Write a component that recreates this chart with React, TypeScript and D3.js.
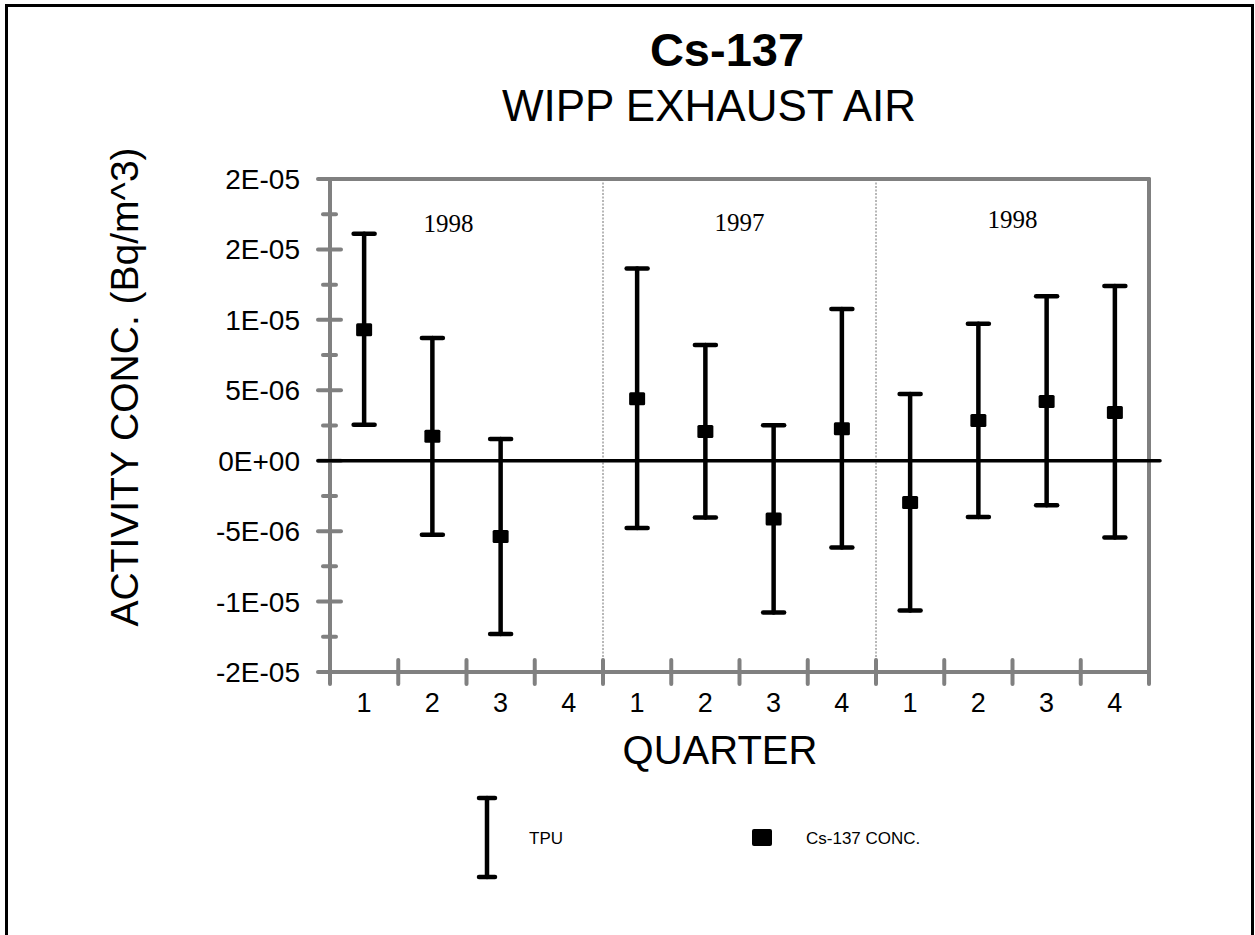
import React from "react";
import * as d3 from "d3";

// ---- data ----
const quarters = ["1", "2", "3", "4", "1", "2", "3", "4", "1", "2", "3", "4"];
const conc: (number | null)[] = [9.3e-6, 1.73e-6, -5.38e-6, null, 4.4e-6, 2.08e-6, -4.14e-6, 2.27e-6, -2.96e-6, 2.86e-6, 4.21e-6, 3.43e-6];
const tpuLow: (number | null)[] = [2.56e-6, -5.26e-6, -1.23e-5, null, -4.78e-6, -4.03e-6, -1.077e-5, -6.16e-6, -1.063e-5, -4.0e-6, -3.17e-6, -5.45e-6];
const tpuHigh: (number | null)[] = [1.612e-5, 8.71e-6, 1.54e-6, null, 1.364e-5, 8.22e-6, 2.51e-6, 1.077e-5, 4.74e-6, 9.73e-6, 1.167e-5, 1.24e-5];
const years = ["1998", "1997", "1998"];
const majorTicks = [-1.5e-5, -1e-5, -5e-6, 0, 5e-6, 1e-5, 1.5e-5, 2e-5];
const minorTicks = [-1.25e-5, -7.5e-6, -2.5e-6, 2.5e-6, 7.5e-6, 1.25e-5, 1.75e-5];

// ---- layout ----
const W = 1255, H = 935;
const L = 330, R = 1149, T = 179, B = 672;
const SANS = "'Liberation Sans', Arial, Helvetica, sans-serif";
const SERIF = "'Liberation Serif', 'Times New Roman', serif";
const GRAY = "#808080";
const yearOffsets = [-18, 0, 0];
const yearBaselines = [232, 231, 228];

function fmtE(v: number): string {
  if (Math.abs(v) < 1e-20) return "0E+00";
  const s = Math.sign(v);
  let e = Math.floor(Math.log10(Math.abs(v)) + 1e-9);
  let m = Math.round(Math.abs(v) / Math.pow(10, e) + 1e-9);
  if (m >= 10) { m = 1; e += 1; }
  const es = (e < 0 ? "-" : "+") + String(Math.abs(e)).padStart(2, "0");
  return (s < 0 ? "-" : "") + m + "E" + es;
}

export default function App() {
  const x = d3.scaleBand<number>().domain(d3.range(quarters.length)).range([L, R]).padding(0);
  const y = d3.scaleLinear().domain([-1.5e-5, 2e-5]).range([B, T]);
  const bw = x.bandwidth();
  const cx = (i: number) => (x(i) as number) + bw / 2;

  return (
    <svg width={W} height={H} style={{ position: "absolute", left: 0, top: 0, background: "#fff" }}>
      <rect x={0} y={0} width={W} height={H} fill="#fff" />
      {/* outer frame */}
      <rect x={6.5} y={5.5} width={1246} height={960} fill="none" stroke="#000" strokeWidth={3} />

      {/* titles */}
      <text x={727} y={66} textAnchor="middle" fontFamily={SANS} fontWeight="bold" fontSize={47}>Cs-137</text>
      <text x={709} y={121} textAnchor="middle" fontFamily={SANS} fontSize={44}>WIPP EXHAUST AIR</text>

      {/* y axis title */}
      <text transform={`translate(138,387) rotate(-90)`} textAnchor="middle" fontFamily={SANS} fontSize={39}>
        ACTIVITY CONC. (Bq/m^3)
      </text>

      {/* group separators */}
      {[4, 8].map((k) => (
        <line key={k} x1={x(k) as number} x2={x(k) as number} y1={T} y2={B} stroke="#707070" strokeWidth={1} strokeDasharray="2,1.5" />
      ))}

      {/* frame top & right */}
      <line x1={L} x2={R} y1={T} y2={T} stroke={GRAY} strokeWidth={4} strokeLinecap="round" />
      <line x1={R} x2={R} y1={T} y2={B} stroke={GRAY} strokeWidth={4} strokeLinecap="round" />

      {/* y axis */}
      <line x1={L} x2={L} y1={T} y2={B} stroke={GRAY} strokeWidth={4} strokeLinecap="round" />
      {majorTicks.map((t, i) => (
        <g key={"M" + i}>
          <line x1={L - 12} x2={L + 11} y1={y(t)} y2={y(t)} stroke={GRAY} strokeWidth={4} strokeLinecap="round" />
          <text x={300} y={y(t) + 10} textAnchor="end" fontFamily={SANS} fontSize={28}>{fmtE(t)}</text>
        </g>
      ))}
      {minorTicks.map((t, i) => (
        <line key={"m" + i} x1={L - 7} x2={L + 6} y1={y(t)} y2={y(t)} stroke={GRAY} strokeWidth={4} strokeLinecap="round" />
      ))}

      {/* x axis */}
      <line x1={L} x2={R} y1={B} y2={B} stroke={GRAY} strokeWidth={4} strokeLinecap="round" />
      {d3.range(quarters.length + 1).map((k) => {
        const xx = k < quarters.length ? (x(k) as number) : R;
        const top = k === 0 || k === quarters.length ? B : B - 12;
        return <line key={"xt" + k} x1={xx} x2={xx} y1={top} y2={B + 12} stroke={GRAY} strokeWidth={4} strokeLinecap="round" />;
      })}
      {quarters.map((q, i) => (
        <text key={"xl" + i} x={cx(i)} y={712} textAnchor="middle" fontFamily={SANS} fontSize={27}>{q}</text>
      ))}
      <text x={720} y={764} textAnchor="middle" fontFamily={SANS} fontSize={40}>QUARTER</text>

      {/* year labels */}
      {years.map((yr, g) => (
        <text key={"yr" + g} x={cx(g * 4) + bw * 1.5 + yearOffsets[g]} y={yearBaselines[g]}
          textAnchor="middle" fontFamily={SERIF} fontSize={25}>{yr}</text>
      ))}

      {/* zero line */}
      <line x1={L - 12} x2={1160} y1={y(0)} y2={y(0)} stroke="#000" strokeWidth={3.5} strokeLinecap="round" />

      {/* error bars */}
      {quarters.map((_, i) => {
        const lo = tpuLow[i], hi = tpuHigh[i];
        if (lo == null || hi == null) return null;
        const xx = cx(i);
        return (
          <g key={"eb" + i} stroke="#000" strokeWidth={4.5} strokeLinecap="round">
            <line x1={xx} x2={xx} y1={y(hi)} y2={y(lo)} />
            <line x1={xx - 10.5} x2={xx + 10.5} y1={y(hi)} y2={y(hi)} />
            <line x1={xx - 10.5} x2={xx + 10.5} y1={y(lo)} y2={y(lo)} />
          </g>
        );
      })}
      {/* markers */}
      {quarters.map((_, i) => {
        const v = conc[i];
        if (v == null) return null;
        return <rect key={"mk" + i} x={cx(i) - 8} y={y(v) - 6.5} width={16} height={13} rx={1.5} fill="#000" />;
      })}

      {/* legend */}
      <g stroke="#000" strokeWidth={4.5} strokeLinecap="round">
        <line x1={487} x2={487} y1={798} y2={877} />
        <line x1={479} x2={495} y1={798} y2={798} />
        <line x1={479} x2={495} y1={877} y2={877} />
      </g>
      <text x={529} y={844} fontFamily={SANS} fontSize={17}>TPU</text>
      <rect x={752} y={829} width={20} height={17} rx={2} fill="#000" />
      <text x={806} y={844} fontFamily={SANS} fontSize={17}>Cs-137 CONC.</text>
    </svg>
  );
}
